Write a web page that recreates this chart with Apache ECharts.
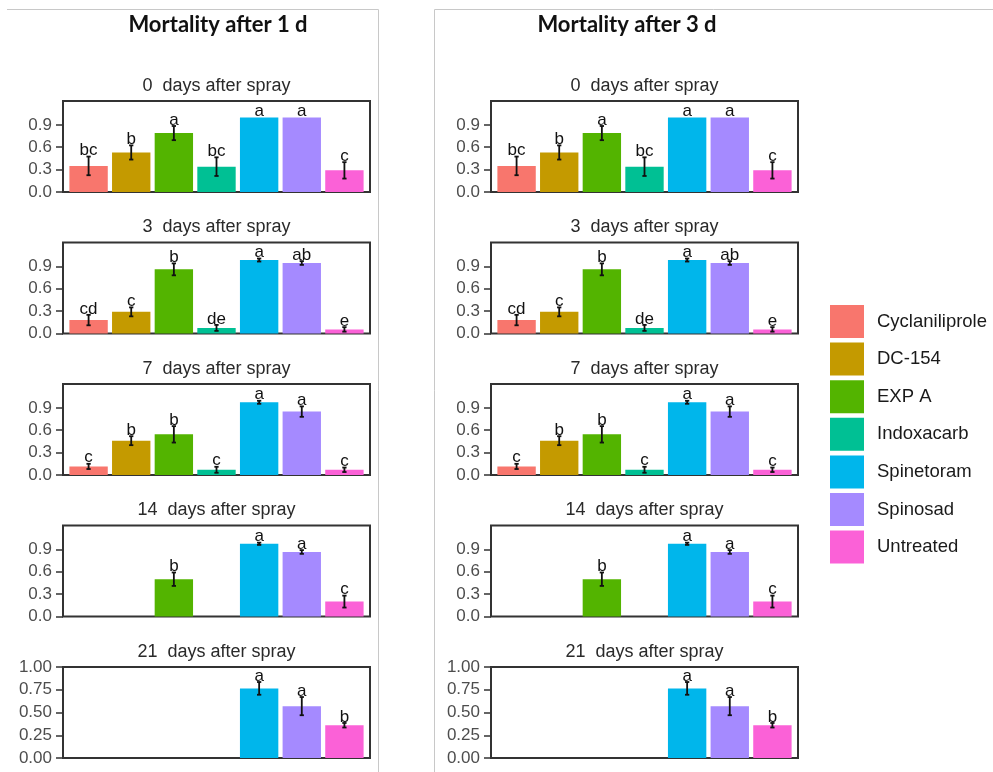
<!DOCTYPE html>
<html>
<head>
<meta charset="utf-8">
<script src="https://cdn.jsdelivr.net/npm/echarts@6/dist/echarts.min.js"></script>
<style>
  html, body { margin: 0; padding: 0; background: #fff; }
  #chart { width: 993px; height: 772px; }
</style>
</head>
<body>
<div id="chart"></div>
<script>
// Treatments, in legend / bar order
const treatments = ['Cyclaniliprole', 'DC-154', 'EXP A', 'Indoxacarb', 'Spinetoram', 'Spinosad', 'Untreated'];
const treatmentColors = ['#F8766D', '#C49A00', '#53B400', '#00C094', '#00B6EB', '#A58AFF', '#FB61D7'];
const sprayDays = [0, 3, 7, 14, 21];
const columnTitles = ['Mortality after 1 d', 'Mortality after 3 d'];

// Mortality after 1 d: mean, standard error and grouping letter (rows = days after spray)
const mean1d = [
  [0.35, 0.53, 0.79, 0.34, 1.00, 1.00, 0.29],
  [0.18, 0.29, 0.86, 0.075, 0.985, 0.945, 0.055],
  [0.115, 0.46, 0.545, 0.07, 0.975, 0.85, 0.07],
  [null, null, 0.50, null, 0.975, 0.865, 0.20],
  [null, null, null, null, 0.765, 0.57, 0.36]
];
const se1d = [
  [0.125, 0.095, 0.095, 0.125, 0, 0, 0.11],
  [0.07, 0.06, 0.08, 0.04, 0.02, 0.025, 0.03],
  [0.035, 0.06, 0.11, 0.04, 0.02, 0.07, 0.03],
  [null, null, 0.09, null, 0.015, 0.025, 0.08],
  [null, null, null, null, 0.07, 0.10, 0.025]
];
const letters1d = [
  ['bc', 'b', 'a', 'bc', 'a', 'a', 'c'],
  ['cd', 'c', 'b', 'de', 'a', 'ab', 'e'],
  ['c', 'b', 'b', 'c', 'a', 'a', 'c'],
  ['', '', 'b', '', 'a', 'a', 'c'],
  ['', '', '', '', 'a', 'a', 'b']
];

// Mortality after 3 d
const mean3d = [
  [0.35, 0.53, 0.79, 0.34, 1.00, 1.00, 0.29],
  [0.18, 0.29, 0.86, 0.075, 0.985, 0.945, 0.055],
  [0.115, 0.46, 0.545, 0.07, 0.975, 0.85, 0.07],
  [null, null, 0.50, null, 0.975, 0.865, 0.20],
  [null, null, null, null, 0.765, 0.57, 0.36]
];
const se3d = [
  [0.125, 0.095, 0.095, 0.125, 0, 0, 0.11],
  [0.07, 0.06, 0.08, 0.04, 0.02, 0.025, 0.03],
  [0.035, 0.06, 0.11, 0.04, 0.02, 0.07, 0.03],
  [null, null, 0.09, null, 0.015, 0.025, 0.08],
  [null, null, null, null, 0.07, 0.10, 0.025]
];
const letters3d = [
  ['bc', 'b', 'a', 'bc', 'a', 'a', 'c'],
  ['cd', 'c', 'b', 'de', 'a', 'ab', 'e'],
  ['c', 'b', 'b', 'c', 'a', 'a', 'c'],
  ['', '', 'b', '', 'a', 'a', 'c'],
  ['', '', '', '', 'a', 'a', 'b']
];

// y-axis ticks and upper limits per facet row
const ticksShort = [0, 0.3, 0.6, 0.9];
const ticksLong = [0, 0.25, 0.5, 0.75, 1.0];
const rowTicks = [ticksShort, ticksShort, ticksShort, ticksShort, ticksLong];
const rowMax = [1.22, 1.22, 1.22, 1.22, 1.0];
const rowDecimals = [1, 1, 1, 1, 2];

// Layout
const colLeft = [63, 491];
const colCenter = [218, 627];
const panelWidth = 307;
const panelTop = [101, 242.5, 384, 525.5, 667];
const panelHeight = 91;
const SANS = '"Liberation Sans", Arial, sans-serif';

const columns = [
  { mean: mean1d, se: se1d, letters: letters1d },
  { mean: mean3d, se: se3d, letters: letters3d }
];

const grids = [], xAxes = [], yAxes = [], series = [], titles = [];

function makeRenderer(letter) {
  return function (params, api) {
    const x = api.value(0), y = api.value(1), e = api.value(2);
    const base = api.coord([x, 0]);
    const top = api.coord([x, y]);
    const hi = api.coord([x, y + e]);
    const lo = api.coord([x, Math.max(0, y - e)]);
    const w = api.size([0.9, 0])[0];
    const cap = api.size([0.1, 0])[0];
    const children = [
      {
        type: 'rect',
        shape: { x: base[0] - w / 2, y: top[1], width: w, height: base[1] - top[1] },
        style: { fill: api.visual('color') }
      }
    ];
    if (e > 0) {
      const ls = { stroke: '#111', lineWidth: 1.8 };
      children.push(
        { type: 'line', shape: { x1: top[0], y1: hi[1], x2: top[0], y2: lo[1] }, style: ls },
        { type: 'line', shape: { x1: top[0] - cap / 2, y1: hi[1], x2: top[0] + cap / 2, y2: hi[1] }, style: ls },
        { type: 'line', shape: { x1: top[0] - cap / 2, y1: lo[1], x2: top[0] + cap / 2, y2: lo[1] }, style: ls }
      );
    }
    if (letter) {
      children.push({
        type: 'text',
        style: {
          text: letter, x: top[0], y: hi[1] + 2.5,
          align: 'center', verticalAlign: 'bottom',
          font: '17px ' + SANS, fill: '#111'
        },
        z2: 10
      });
    }
    return { type: 'group', children: children };
  };
}

columns.forEach(function (col, c) {
  titles.push({
    text: columnTitles[c],
    left: colCenter[c], top: 13.5, textAlign: 'center', padding: 0,
    textStyle: { fontFamily: 'Lato, "Open Sans", sans-serif', fontWeight: 'bold', fontSize: 22, color: '#111' }
  });
  sprayDays.forEach(function (day, r) {
    const gi = grids.length;
    grids.push({
      left: colLeft[c], top: panelTop[r], width: panelWidth, height: panelHeight,
      show: true, borderColor: '#333', borderWidth: 2, backgroundColor: 'transparent'
    });
    titles.push({
      text: day + '  days after spray',
      left: colLeft[c] + panelWidth / 2, top: panelTop[r] - 24, textAlign: 'center', padding: 0,
      textStyle: { fontFamily: SANS, fontWeight: 'normal', fontSize: 18, color: '#2a2a2a' }
    });
    xAxes.push({ gridIndex: gi, type: 'value', min: 0.4, max: 7.6, show: false });
    const dec = rowDecimals[r];
    yAxes.push({
      gridIndex: gi, type: 'value', min: 0, max: rowMax[r],
      splitLine: { show: false },
      axisLine: { show: false },
      axisTick: { show: true, length: 7, customValues: rowTicks[r], lineStyle: { color: '#333', width: 1.5 } },
      axisLabel: {
        customValues: rowTicks[r], margin: 11, fontSize: 17, fontFamily: SANS, color: '#4d4d4d',
        formatter: function (v) { return Number(v).toFixed(dec); }
      }
    });
    treatments.forEach(function (name, t) {
      const m = col.mean[r][t];
      const data = (m === null) ? [] : [[t + 1, m, col.se[r][t]]];
      series.push({
        type: 'custom', name: name,
        xAxisIndex: gi, yAxisIndex: gi,
        itemStyle: { color: treatmentColors[t] },
        encode: { x: 0, y: 1 },
        clip: false,
        renderItem: makeRenderer(col.letters[r][t]),
        data: data
      });
    });
  });
});

const chart = echarts.init(document.getElementById('chart'), null, { renderer: 'canvas' });
chart.setOption({
  animation: false,
  color: treatmentColors,
  title: titles,
  grid: grids,
  xAxis: xAxes,
  yAxis: yAxes,
  legend: {
    data: treatments,
    orient: 'vertical',
    left: 830, top: 305,
    icon: 'rect',
    itemWidth: 34, itemHeight: 33, itemGap: 4.6,
    padding: 0,
    textStyle: { fontFamily: SANS, fontSize: 18.5, color: '#1a1a1a', padding: [0, 0, 0, 8] }
  },
  graphic: [
    { type: 'polyline', shape: { points: [[7, 9.5], [378.5, 9.5], [378.5, 772]] }, style: { stroke: '#c8c8c8', lineWidth: 1, fill: null }, silent: true },
    { type: 'polyline', shape: { points: [[434.5, 772], [434.5, 9.5], [993, 9.5]] }, style: { stroke: '#c8c8c8', lineWidth: 1, fill: null }, silent: true }
  ],
  series: series
});
</script>
</body>
</html>
